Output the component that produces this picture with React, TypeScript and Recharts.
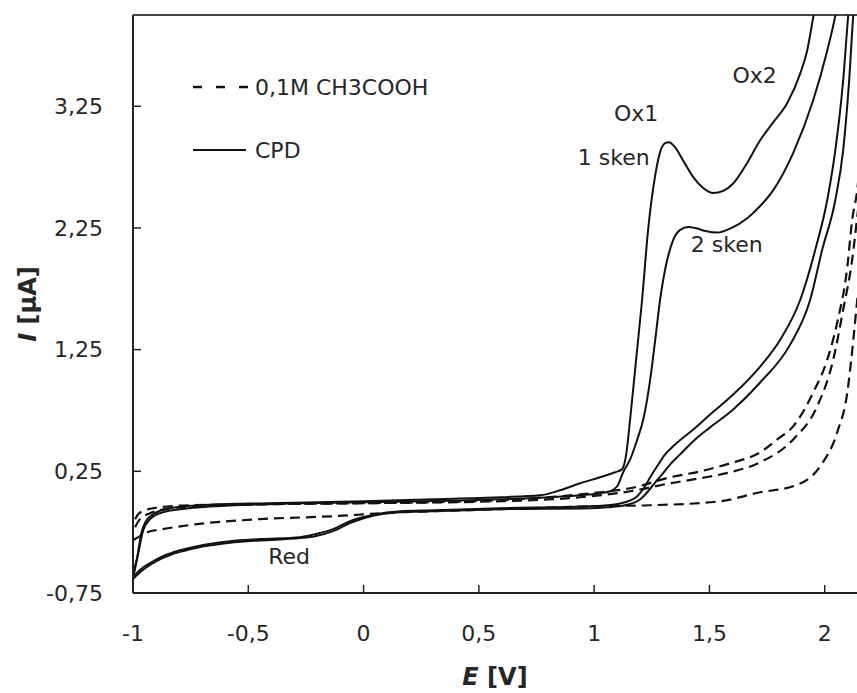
import { LineChart, Line, XAxis, YAxis, ReferenceLine, ReferenceDot, Legend } from "recharts"

const FONT = "'DejaVu Sans', sans-serif"
const INK = "#262626"

const xTicks = [-1, -0.5, 0, 0.5, 1, 1.5, 2]
const yTicks = [-0.75, 0.25, 1.25, 2.25, 3.25]

// CPD, 1st scan, anodic sweep  [E (V), I (µA)]
const cpdScan1: [number, number][] = [
  [-0.996, -0.594], [-0.983, -0.471], [-0.965, -0.266], [-0.944, -0.16], [-0.905, -0.094],
  [-0.839, -0.053], [-0.709, -0.029], [-0.419, -0.012], [0.002, 0.004], [0.302, 0.02],
  [0.592, 0.037], [0.766, 0.053], [0.852, 0.094], [0.939, 0.152], [1.026, 0.201],
  [1.091, 0.242], [1.121, 0.266], [1.139, 0.389], [1.156, 0.676], [1.182, 1.168],
  [1.208, 1.66], [1.234, 2.234], [1.265, 2.684], [1.286, 2.873], [1.308, 2.947],
  [1.325, 2.955], [1.347, 2.922], [1.39, 2.791], [1.43, 2.668], [1.473, 2.578],
  [1.516, 2.537], [1.56, 2.555], [1.603, 2.615], [1.659, 2.77], [1.72, 2.971],
  [1.777, 3.119], [1.837, 3.275], [1.894, 3.52], [1.924, 3.709], [1.95, 3.98], [1.963, 4.119],
]

// CPD, 2nd scan, anodic sweep
const cpdScan2: [number, number][] = [
  [-0.996, -0.57], [-0.978, -0.43], [-0.957, -0.242], [-0.926, -0.143], [-0.87, -0.086],
  [-0.709, -0.045], [-0.419, -0.02], [0.002, -0.004], [0.592, 0.02], [0.939, 0.053],
  [1.026, 0.07], [1.069, 0.086], [1.1, 0.127], [1.126, 0.242], [1.156, 0.348],
  [1.187, 0.512], [1.213, 0.676], [1.243, 1.004], [1.265, 1.332], [1.286, 1.66],
  [1.317, 1.988], [1.343, 2.152], [1.373, 2.234], [1.408, 2.258], [1.438, 2.25],
  [1.482, 2.225], [1.534, 2.212], [1.59, 2.245], [1.664, 2.33], [1.72, 2.43],
  [1.777, 2.561], [1.863, 2.865], [1.95, 3.299], [2.011, 3.709], [2.046, 3.996], [2.054, 4.078],
]

// CPD, 1st scan, cathodic sweep (incl. Red wave)
const cpdBack1: [number, number][] = [
  [-0.996, -0.611], [-0.97, -0.561], [-0.926, -0.504], [-0.87, -0.447], [-0.796, -0.398],
  [-0.722, -0.365], [-0.579, -0.324], [-0.449, -0.307], [-0.275, -0.291], [-0.21, -0.266],
  [-0.132, -0.225], [-0.059, -0.16], [0.015, -0.119], [0.158, -0.078], [0.302, -0.07],
  [0.592, -0.053], [0.983, -0.037], [1.056, -0.029], [1.134, -0.004], [1.187, 0.045],
  [1.221, 0.127], [1.243, 0.201], [1.273, 0.291], [1.308, 0.389], [1.351, 0.471],
  [1.43, 0.594], [1.503, 0.717], [1.603, 0.881], [1.72, 1.111], [1.807, 1.332],
  [1.894, 1.66], [1.959, 2.07], [2.011, 2.48], [2.046, 2.889], [2.08, 3.463],
  [2.102, 3.996], [2.106, 4.078],
]

// CPD, 2nd scan, cathodic sweep
const cpdBack2: [number, number][] = [
  [-1.0, -0.635], [-0.97, -0.58], [-0.926, -0.52], [-0.87, -0.462], [-0.796, -0.412],
  [-0.722, -0.378], [-0.579, -0.338], [-0.449, -0.318], [-0.275, -0.299], [-0.21, -0.283],
  [-0.132, -0.242], [-0.059, -0.176], [0.015, -0.127], [0.158, -0.086], [0.302, -0.078],
  [0.592, -0.061], [0.983, -0.053], [1.056, -0.045], [1.134, -0.029], [1.2, 0.02],
  [1.234, 0.086], [1.265, 0.16], [1.295, 0.225], [1.33, 0.307], [1.373, 0.389],
  [1.438, 0.512], [1.503, 0.611], [1.603, 0.758], [1.72, 0.98], [1.85, 1.291],
  [1.937, 1.66], [1.989, 2.07], [2.046, 2.48], [2.08, 2.889], [2.106, 3.463],
  [2.124, 3.996], [2.128, 4.078],
]

// 0,1M CH3COOH blank
const blankA: [number, number][] = [
  [-0.991, -0.143], [-0.978, -0.102], [-0.948, -0.07], [-0.883, -0.045], [-0.753, -0.029],
  [-0.419, -0.02], [0.002, -0.012], [0.302, -0.004], [0.592, 0.012], [0.852, 0.045],
  [1.026, 0.078], [1.156, 0.111], [1.33, 0.201], [1.46, 0.25], [1.59, 0.316],
  [1.72, 0.406], [1.794, 0.512], [1.863, 0.619], [1.95, 0.898], [2.011, 1.168],
  [2.054, 1.471], [2.098, 1.93], [2.119, 2.316], [2.141, 2.561], [2.154, 2.807],
]

const blankB: [number, number][] = [
  [-0.991, -0.209], [-0.97, -0.143], [-0.926, -0.094], [-0.861, -0.061], [-0.709, -0.037],
  [-0.419, -0.02], [0.002, -0.012], [0.592, 0.004], [0.939, 0.037], [1.156, 0.086],
  [1.33, 0.152], [1.46, 0.193], [1.59, 0.242], [1.72, 0.324], [1.863, 0.512],
  [1.967, 0.783], [2.037, 1.168], [2.08, 1.578], [2.119, 1.988], [2.141, 2.34], [2.163, 2.725],
]

const blankC: [number, number][] = [
  [-1.0, -0.316], [-0.97, -0.283], [-0.939, -0.25], [-0.87, -0.225], [-0.722, -0.184],
  [-0.449, -0.143], [-0.132, -0.119], [0.158, -0.086], [0.302, -0.078], [0.592, -0.061],
  [0.983, -0.037], [1.243, -0.029], [1.547, 0.004], [1.72, 0.078], [1.863, 0.127],
  [1.98, 0.291], [2.054, 0.57], [2.098, 0.898], [2.124, 1.332], [2.141, 1.66], [2.163, 2.07],
]

const notes = [
  { text: "Ox1", E: 1.182, I: 3.193 },
  { text: "1 sken", E: 1.085, I: 2.832 },
  { text: "Ox2", E: 1.696, I: 3.504 },
  { text: "2 sken", E: 1.575, I: 2.111 },
  { text: "Red", E: -0.323, I: -0.447 },
]

const toRows = (pts: [number, number][]) => pts.map(([E, I]) => ({ E, I }))

const solid = [cpdScan1, cpdScan2, cpdBack1, cpdBack2]
const dashed = [blankA, blankB, blankC]

const comma = (v: number) => String(v).replace(".", ",")

function YTitle(props: any) {
  const vb = props.viewBox
  const cx = vb.x + 20
  const cy = vb.y + vb.height / 2
  return (
    <text
      x={cx}
      y={cy}
      transform={`rotate(-90 ${cx} ${cy})`}
      textAnchor="middle"
      dominantBaseline="central"
      fontFamily={FONT}
      fontSize={24}
      fontWeight="bold"
      fill={INK}
    >
      <tspan fontStyle="italic">I</tspan> [µA]
    </text>
  )
}

function XTitle(props: any) {
  const vb = props.viewBox
  return (
    <text
      x={vb.x + vb.width / 2}
      y={vb.y + 92}
      textAnchor="middle"
      fontFamily={FONT}
      fontSize={24}
      fontWeight="bold"
      fill={INK}
    >
      <tspan fontStyle="italic">E</tspan> [V]
    </text>
  )
}

function LegendBox() {
  const row = { display: "flex", alignItems: "center", height: 26, fontFamily: FONT, fontSize: 22, color: INK }
  return (
    <div style={{ width: 320 }}>
      <div style={row}>
        <svg width={56} height={10} style={{ marginRight: 6 }}>
          <line x1={0} y1={5} x2={55} y2={5} stroke="#111" strokeWidth={2.4} strokeDasharray="9 14" />
        </svg>
        <span>0,1M CH3COOH</span>
      </div>
      <div style={{ ...row, marginTop: 37 }}>
        <svg width={56} height={10} style={{ marginRight: 6 }}>
          <line x1={0} y1={5} x2={53} y2={5} stroke="#111" strokeWidth={2.2} />
        </svg>
        <span>CPD</span>
      </div>
    </div>
  )
}

export default function App() {
  return (
    // placed absolutely so the page never grows scrollbars
    <div style={{ position: "absolute", left: 8, top: 8, width: 849, height: 685 }}>
      <LineChart width={849} height={685} margin={{ top: 7, right: 0, left: 0, bottom: 0 }} style={{ fontFamily: FONT }}>
        <XAxis
          type="number"
          dataKey="E"
          domain={[-1, 2.14]}
          ticks={xTicks}
          interval={0}
          allowDataOverflow
          height={100}
          tickSize={-8}
          tickMargin={40}
          tickFormatter={comma}
          axisLine={{ stroke: "#222", strokeWidth: 2 }}
          tickLine={{ stroke: "#222", strokeWidth: 1.5 }}
          tick={{ fill: INK, fontSize: 22, fontFamily: FONT }}
          label={XTitle}
        />
        <YAxis
          type="number"
          dataKey="I"
          domain={[-0.75, 4]}
          ticks={yTicks}
          interval={0}
          allowDataOverflow
          width={125}
          tickSize={-8}
          tickMargin={38}
          tickFormatter={comma}
          axisLine={{ stroke: "#222", strokeWidth: 2 }}
          tickLine={{ stroke: "#222", strokeWidth: 1.5 }}
          tick={{ fill: INK, fontSize: 22, fontFamily: FONT }}
          label={YTitle}
        />
        <ReferenceLine y={4} stroke="#444" strokeWidth={2} />
        {dashed.map((pts, i) => (
          <Line
            key={"d" + i}
            data={toRows(pts)}
            dataKey="I"
            type="monotone"
            stroke="#111"
            strokeWidth={2.2}
            strokeDasharray="10 6"
            dot={false}
            activeDot={false}
            legendType="none"
            isAnimationActive={false}
          />
        ))}
        {solid.map((pts, i) => (
          <Line
            key={"s" + i}
            data={toRows(pts)}
            dataKey="I"
            type="monotone"
            stroke="#111"
            strokeWidth={2}
            dot={false}
            activeDot={false}
            legendType="none"
            isAnimationActive={false}
          />
        ))}
        {notes.map((n) => (
          <ReferenceDot
            key={n.text}
            x={n.E}
            y={n.I}
            r={0}
            fill="none"
            stroke="none"
            label={(p: any) => (
              <text
                x={p.viewBox.x}
                y={p.viewBox.y}
                textAnchor="middle"
                dominantBaseline="central"
                fontFamily={FONT}
                fontSize={22}
                fill={INK}
              >
                {n.text}
              </text>
            )}
          />
        ))}
        <Legend
          layout="vertical"
          align="center"
          verticalAlign="middle"
          content={LegendBox}
          wrapperStyle={{ left: 185, top: 66, width: 320 }}
        />
      </LineChart>
    </div>
  )
}
